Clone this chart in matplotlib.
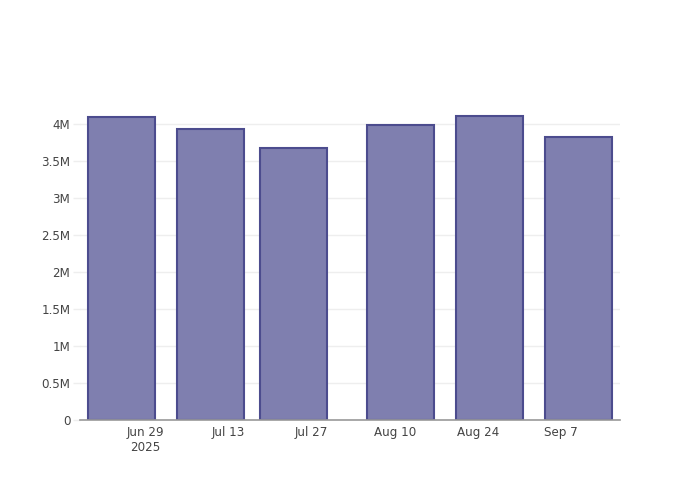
import matplotlib
matplotlib.use("Agg")
import matplotlib.pyplot as plt
import matplotlib.dates as mdates
import numpy as np
import pandas as pd

dates = ["2025-06-25", "2025-07-10", "2025-07-24", "2025-08-11", "2025-08-26", "2025-09-10"]
values = [4.099e6, 3.943e6, 3.679e6, 3.988e6, 4.113e6, 3.832e6]
xtick_dates = ["2025-06-29", "2025-07-13", "2025-07-27", "2025-08-10", "2025-08-24", "2025-09-07"]
xtick_labels = ["Jun 29\n2025", "Jul 13", "Jul 27", "Aug 10", "Aug 24", "Sep 7"]
ytick_vals = [0, 0.5e6, 1e6, 1.5e6, 2e6, 2.5e6, 3e6, 3.5e6, 4e6]
ytick_labels = ["0", "0.5M", "1M", "1.5M", "2M", "2.5M", "3M", "3.5M", "4M"]

plt.rcParams['font.family'] = ['DejaVu Sans']
fig = plt.figure(figsize=(7, 5), dpi=100)
ax = fig.add_axes([80/700, 80/500, 540/700, 320/500])

x = mdates.date2num(pd.to_datetime(dates))
width = 0.8 * np.min(np.diff(x))
ax.bar(x, values, width=width, color='#7f7faf', edgecolor='#4c4c8e', linewidth=1.5, zorder=3)

ax.set_xlim(mdates.date2num(pd.Timestamp("2025-06-18 00:00")), mdates.date2num(pd.Timestamp("2025-09-16 23:00")))
ax.set_ylim(0, 4.33e6)

ax.set_xticks(mdates.date2num(pd.to_datetime(xtick_dates)))
ax.set_xticklabels(xtick_labels, color='#444444', fontsize=8.6, linespacing=1.25)
ax.tick_params(axis='x', length=0, pad=4)
ax.set_yticks(ytick_vals)
ax.set_yticklabels(ytick_labels, color='#444444', fontsize=8.6)
ax.tick_params(axis='y', length=5, color='#eeeeee', width=1, pad=2)

ax.grid(axis='y', color='#eeeeee', linewidth=1, zorder=0)
for s in ['top', 'right', 'left']:
    ax.spines[s].set_visible(False)
ax.spines['bottom'].set_color('#999999')
ax.spines['bottom'].set_linewidth(1.2)
ax.spines['bottom'].set_zorder(4)

fig.savefig("out.png", dpi=100)
